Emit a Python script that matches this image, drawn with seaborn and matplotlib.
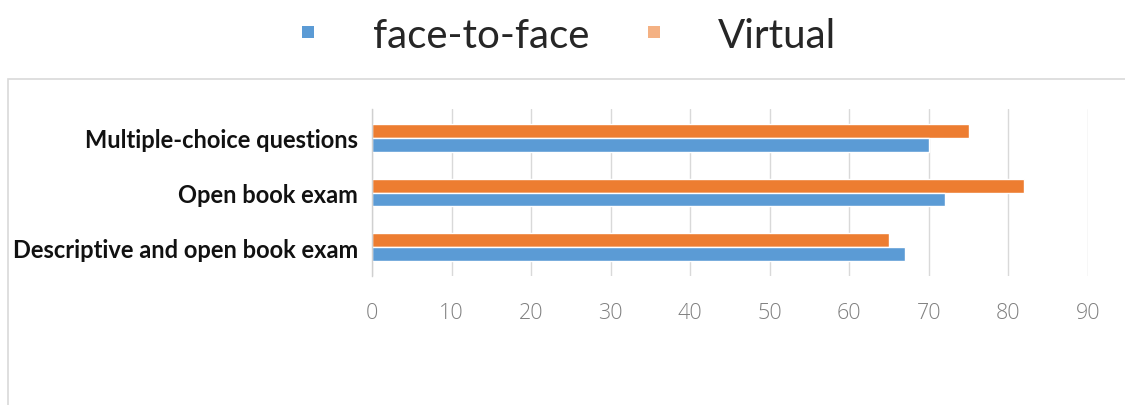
import matplotlib
matplotlib.use("Agg")
import matplotlib.pyplot as plt
from matplotlib.patches import Patch, Rectangle
import seaborn as sns
import pandas as pd

# Exam formats and the share (%) for each delivery mode
categories = ["Multiple-choice questions", "Open book exam", "Descriptive and open book exam"]
face_to_face = [70, 72, 67]
virtual = [75, 82, 65]
x_ticks = [0, 10, 20, 30, 40, 50, 60, 70, 80, 90]

df = pd.DataFrame({
    "category": categories * 2,
    "value": face_to_face + virtual,
    "mode": ["face-to-face"] * 3 + ["Virtual"] * 3,
})

sns.set_theme(style="white")
plt.rcParams["font.family"] = ["Lato", "DejaVu Sans"]

fig = plt.figure(figsize=(11.25, 4.06), dpi=100)
ax = fig.add_axes([0.3307, 0.3177, 0.6364, 0.4113])

blue = "#5B9BD5"
orange = "#ED7D31"
sns.barplot(
    data=df, y="category", x="value", hue="mode",
    hue_order=["Virtual", "face-to-face"],
    palette={"face-to-face": blue, "Virtual": orange},
    order=categories, orient="h", width=0.5, saturation=1,
    ax=ax, legend=False,
)

ax.set_xlim(0, 90)
ax.set_ylim(2.53, -0.53)
ax.set_xticks(x_ticks)
ax.set_xlabel("")
ax.set_ylabel("")
ax.grid(axis="x", color="#d9d9d9", linewidth=1)
ax.grid(axis="y", visible=False)
ax.set_axisbelow(True)
for side in ["top", "right", "bottom"]:
    ax.spines[side].set_visible(False)
ax.spines["left"].set_color("#d0d0d0")
ax.spines["left"].set_linewidth(1)
ax.tick_params(axis="both", length=0)
ax.tick_params(axis="x", pad=19, labelsize=15.5, labelcolor="#808080")
for lbl in ax.get_xticklabels():
    lbl.set_family(["Open Sans", "DejaVu Sans"])
    lbl.set_fontweight("light")
for lbl in ax.get_yticklabels():
    lbl.set_family(["Lato", "DejaVu Sans"])
    lbl.set_fontweight("bold")
    lbl.set_fontsize(17)
    lbl.set_color("#111111")
ax.tick_params(axis="y", pad=10)

# Chart-area frame
fig.patches.append(Rectangle((0.007, -0.2), 1.2, 1.2 - 80 / 406,
                             transform=fig.transFigure, fill=False,
                             edgecolor="#d9d9d9", linewidth=1.2, zorder=0))

# Square legend keys (legend handle height includes a descent correction)
handles = [Patch(facecolor=blue, edgecolor="none", label="face-to-face"),
           Patch(facecolor="#F4B183", edgecolor="none", label="Virtual")]
fig.legend(handles=handles, loc="center", bbox_to_anchor=(0.506, 0.911), ncol=2,
           frameon=False, handlelength=0.3, handleheight=0.09,
           handletextpad=1.45, columnspacing=1.45,
           prop={"family": ["Lato", "DejaVu Sans"], "size": 29})

fig.savefig("out.png", dpi=100, facecolor="white")
